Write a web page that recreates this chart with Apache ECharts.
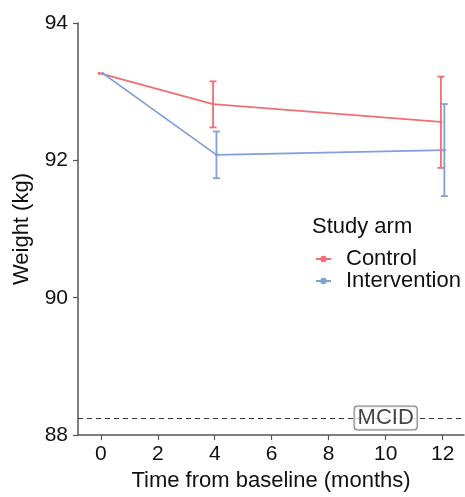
<!DOCTYPE html>
<html>
<head>
<meta charset="utf-8">
<script src="https://cdn.jsdelivr.net/npm/echarts@6/dist/echarts.min.js"></script>
<style>
  html, body { margin: 0; padding: 0; background: #fff; }
  #main { width: 465px; height: 497px; }
</style>
</head>
<body>
<div id="main"></div>
<script>
// data
var timePoints = [0, 4, 12];
var controlMean = [93.27, 92.82, 92.56];
var controlLower = [null, 92.48, 91.89];
var controlUpper = [null, 93.15, 93.22];
var interventionMean = [93.27, 92.08, 92.15];
var interventionLower = [null, 91.74, 91.48];
var interventionUpper = [null, 92.42, 92.82];
var xTicks = [0, 2, 4, 6, 8, 10, 12];
var mcidValue = 88.25;
var mcidLabelX = 10;

var controlColor = '#EF6F73';
var interventionColor = '#7FA0D9';
var dodge = 0.06;
var font = 'Liberation Sans, Arial, sans-serif';

function linePoints(mean, shift) {
  return timePoints.map(function (t, i) { return [t + shift, mean[i]]; });
}
function barPoints(lower, upper, shift) {
  var out = [];
  timePoints.forEach(function (t, i) {
    if (lower[i] != null) out.push([t + shift, lower[i], upper[i]]);
  });
  return out;
}
function errorBar(color) {
  return function (params, api) {
    var lo = api.coord([api.value(0), api.value(1)]);
    var hi = api.coord([api.value(0), api.value(2)]);
    var w = 3.5;
    var st = { stroke: color, lineWidth: 1.8 };
    return {
      type: 'group',
      children: [
        { type: 'line', shape: { x1: lo[0], y1: lo[1], x2: hi[0], y2: hi[1] }, style: st },
        { type: 'line', shape: { x1: lo[0] - w, y1: lo[1], x2: lo[0] + w, y2: lo[1] }, style: st },
        { type: 'line', shape: { x1: hi[0] - w, y1: hi[1], x2: hi[0] + w, y2: hi[1] }, style: st }
      ]
    };
  };
}

var myChart = echarts.init(document.getElementById('main'));
myChart.setOption({
  animation: false,
  backgroundColor: '#fff',
  textStyle: { fontFamily: font },
  grid: { left: 78, top: 23, right: 1, bottom: 59 },
  title: {
    text: 'Study arm',
    left: 312, top: 216,
    padding: 0,
    textStyle: { fontSize: 22, lineHeight: 22, fontWeight: 'normal', color: '#111', fontFamily: font }
  },
  legend: {
    orient: 'vertical',
    left: 315, top: 248,
    padding: 0,
    itemGap: 0,
    itemWidth: 15, itemHeight: 8,
    textStyle: { fontSize: 22, color: '#111', lineHeight: 20, padding: [0, 0, 0, 10], fontFamily: font },
    data: ['Control', 'Intervention']
  },
  xAxis: {
    type: 'value',
    min: -0.8, max: 12.75,
    name: 'Time from baseline (months)',
    nameLocation: 'middle',
    nameGap: 28,
    nameTextStyle: { fontSize: 22, color: '#111' },
    axisLine: { onZero: false, lineStyle: { color: '#555', width: 1.5 } },
    axisTick: { customValues: xTicks, length: 5, lineStyle: { color: '#555', width: 1.2 } },
    axisLabel: { customValues: xTicks, fontSize: 21, color: '#111', margin: 9 },
    splitLine: { show: false }
  },
  yAxis: {
    type: 'value',
    min: 88, max: 94, interval: 2,
    name: 'Weight (kg)',
    nameLocation: 'middle',
    nameGap: 45,
    nameTextStyle: { fontSize: 22, color: '#111' },
    axisLine: { show: true, onZero: false, lineStyle: { color: '#555', width: 1.5 } },
    axisTick: { show: true, length: 5, lineStyle: { color: '#555', width: 1.2 } },
    axisLabel: { fontSize: 21, color: '#111', margin: 10 },
    splitLine: { show: false }
  },
  series: [
    {
      name: 'Control',
      type: 'line',
      color: controlColor,
      data: linePoints(controlMean, -dodge),
      symbol: 'circle', symbolSize: 3,
      lineStyle: { width: 1.8 },
      z: 3,
      markLine: {
        silent: true,
        symbol: 'none',
        label: { show: false },
        lineStyle: { color: '#333', type: [5, 4], width: 1 },
        data: [{ yAxis: mcidValue }]
      }
    },
    {
      name: 'Intervention',
      type: 'line',
      color: interventionColor,
      data: linePoints(interventionMean, dodge),
      symbol: 'circle', symbolSize: 3,
      lineStyle: { width: 1.8 },
      z: 3
    },
    {
      type: 'custom',
      data: barPoints(controlLower, controlUpper, -dodge),
      renderItem: errorBar(controlColor),
      z: 4
    },
    {
      type: 'custom',
      data: barPoints(interventionLower, interventionUpper, dodge),
      renderItem: errorBar(interventionColor),
      z: 4
    },
    {
      type: 'scatter',
      data: [[mcidLabelX, mcidValue]],
      symbolSize: 0,
      silent: true,
      z: 5,
      label: {
        show: true,
        position: 'inside',
        formatter: 'MCID',
        fontSize: 22,
        color: '#111',
        backgroundColor: '#fff',
        borderColor: '#555',
        borderWidth: 1,
        borderRadius: 3,
        padding: [1, 3, 0, 3]
      }
    }
  ]
});
</script>
</body>
</html>
